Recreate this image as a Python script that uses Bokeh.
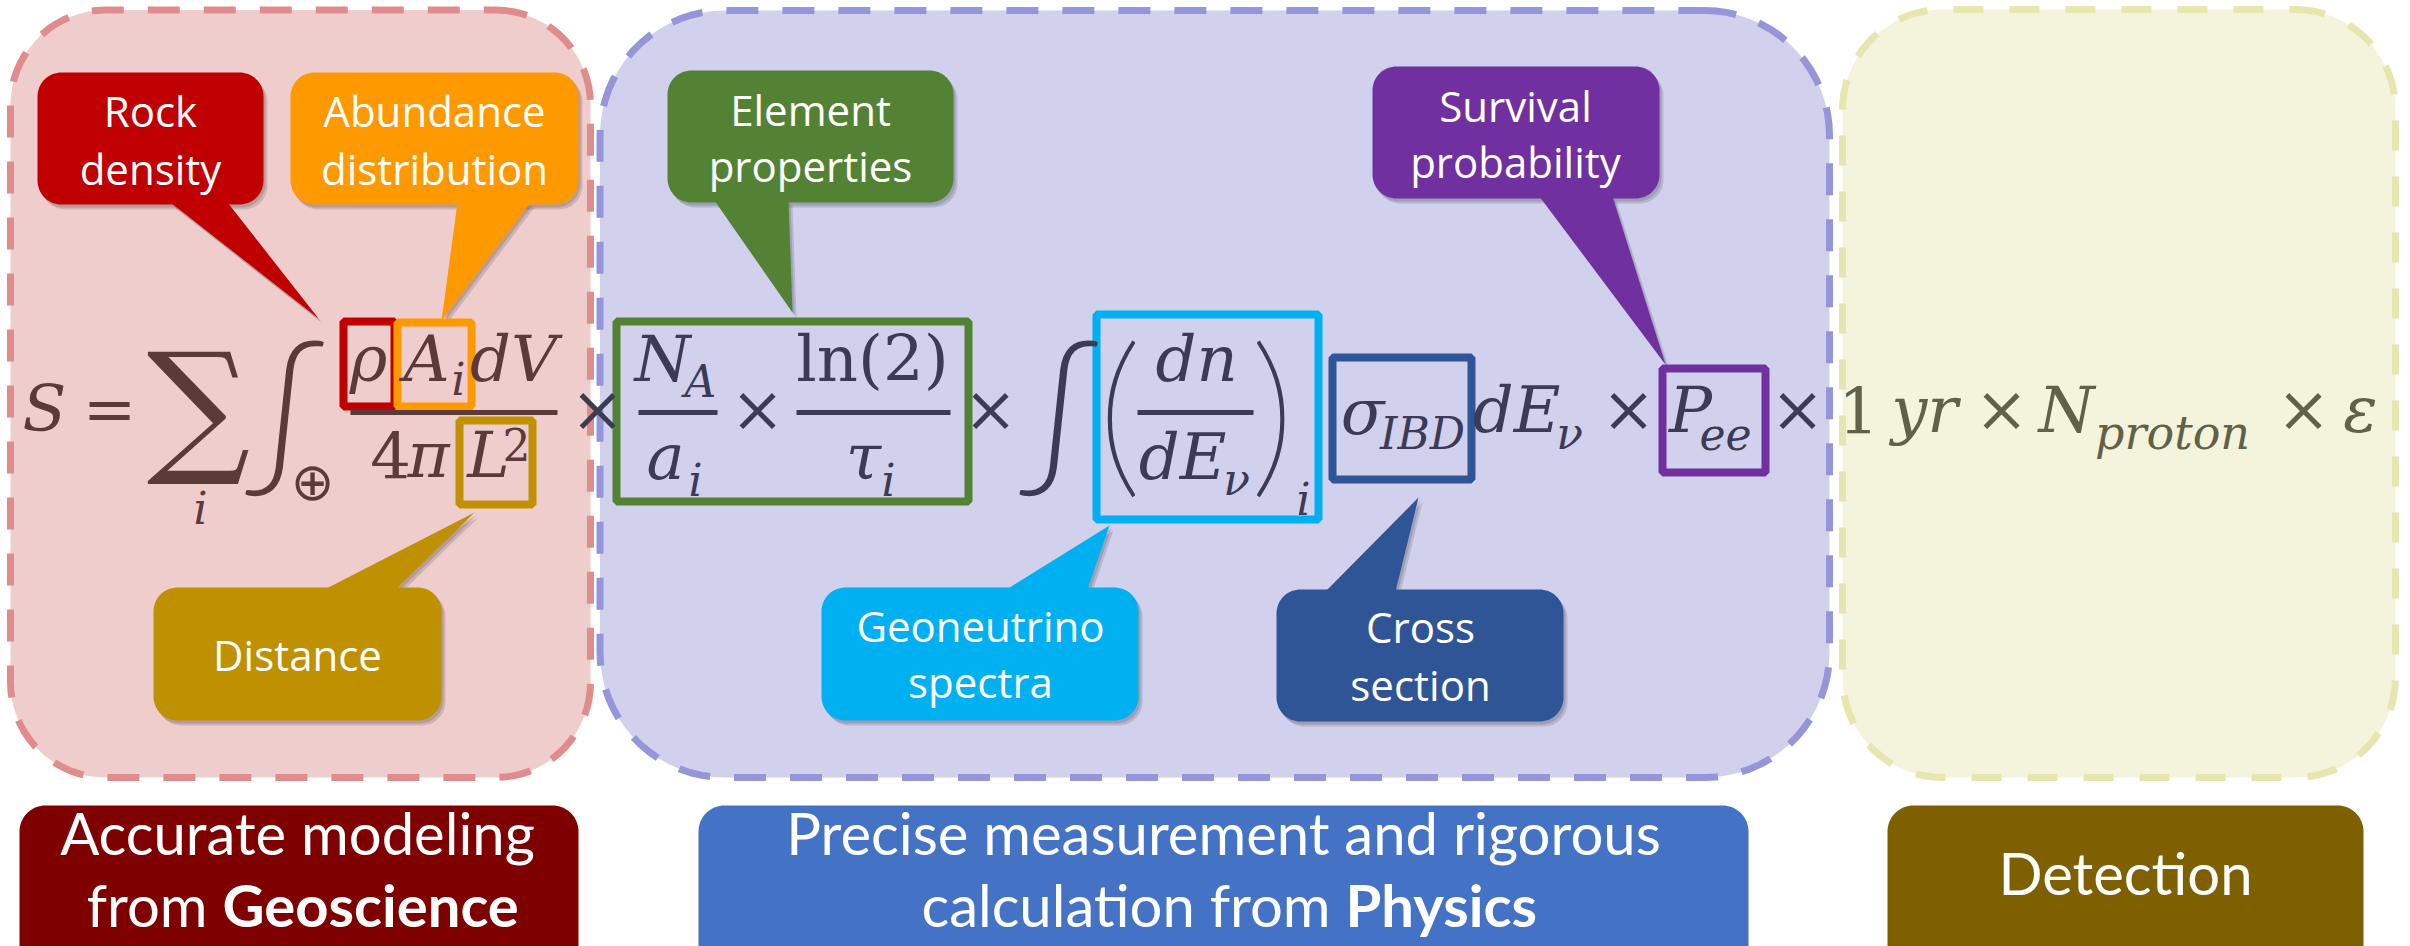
import numpy as np
from bokeh.plotting import figure
from bokeh.models import Range1d
from bokeh.core.properties import value
from bokeh.embed import file_html
from bokeh.resources import INLINE

# ---------------- content ----------------
region_names = ["Geoscience", "Physics", "Detection"]
region_fill = ["#F0CDCD", "#D1D1EE", "#F4F4DC"]
region_line = ["#E08C8C", "#9595D9", "#E8E6AF"]

callout_lines = [["Rock", "density"], ["Abundance", "distribution"], ["Element", "properties"],
                 ["Survival", "probability"], ["Distance"], ["Geoneutrino", "spectra"], ["Cross", "section"]]
callout_colors = ["#C00000", "#FF9900", "#548235", "#7030A0", "#BF9000", "#00B0F0", "#2F5597"]

bottom_line1 = ["Accurate modeling", "Precise measurement and rigorous", "Detection"]
bottom_line2_regular = ["from", "calculation from"]
bottom_line2_bold = ["Geoscience", "Physics"]
bottom_colors = ["#7F0000", "#4472C4", "#7F6000"]

term_colors = ["#C00000", "#FF9900", "#BF9000", "#548235", "#00B0F0", "#2F5597", "#7030A0"]

C_GEO, C_PHY, C_DET = "#5B3A3A", "#3B3B56", "#61614A"

# formula tokens: text, centre x, baseline y, size, italic, colour, font
SER = "DejaVu Serif"
formula = [
    ("S", 44, 432, 64, True, C_GEO, SER), ("=", 109, 432, 64, False, C_GEO, SER),
    ("∑", 198, 457, 145, False, C_GEO, SER), ("i", 200, 524, 44, True, C_GEO, SER),
    ("∫", 284, 463, 157, False, C_GEO, "Lato Light"), ("⊕", 312, 500, 52, False, C_GEO, "DejaVu Sans"),
    ("ρ", 368, 382, 64, True, C_GEO, SER), ("A", 426, 382, 64, True, C_GEO, SER),
    ("i", 458, 395, 44, True, C_GEO, SER), ("dV", 513, 382, 64, True, C_GEO, SER),
    ("4", 390, 478, 64, False, C_GEO, SER), ("π", 428, 478, 64, True, C_GEO, SER),
    ("L", 488, 478, 64, True, C_GEO, SER), ("2", 516, 460, 44, False, C_GEO, SER),
    ("×", 597, 432, 64, False, "#3C3C50", SER),
    ("N", 662, 382, 64, True, C_PHY, SER), ("A", 700, 397, 44, True, C_PHY, SER),
    ("a", 665, 480, 64, True, C_PHY, SER), ("i", 695, 496, 44, True, C_PHY, SER),
    ("×", 757, 432, 64, False, C_PHY, SER), ("ln(2)", 872, 382, 64, False, C_PHY, SER),
    ("τ", 863, 480, 64, True, C_PHY, SER), ("i", 888, 496, 44, True, C_PHY, SER),
    ("×", 990, 432, 64, False, C_PHY, SER), ("∫", 1058, 463, 157, False, C_PHY, "Lato Light"),
    ("(", 1119, 470, 178, False, C_PHY, "Lato Thin"), ("dn", 1196, 382, 64, True, C_PHY, SER),
    ("dE", 1182, 480, 64, True, C_PHY, SER), ("ν", 1236, 495, 44, True, C_PHY, SER),
    (")", 1272, 470, 178, False, C_PHY, "Lato Thin"), ("i", 1303, 515, 44, True, C_PHY, SER),
    ("σ", 1362, 435, 64, True, C_PHY, SER), ("IBD", 1422, 449, 44, True, C_PHY, SER),
    ("dE", 1516, 433, 64, True, C_PHY, SER), ("ν", 1569, 449, 44, True, C_PHY, SER),
    ("×", 1628, 432, 64, False, C_PHY, SER), ("P", 1690, 433, 64, True, C_PHY, SER),
    ("ee", 1725, 449, 44, True, C_PHY, SER), ("×", 1797, 432, 64, False, C_PHY, SER),
    ("1", 1858, 433, 64, False, C_DET, SER), ("yr", 1924, 433, 64, True, C_DET, SER),
    ("×", 2001, 432, 64, False, C_DET, SER), ("N", 2066, 433, 64, True, C_DET, SER),
    ("proton", 2172, 449, 46, True, C_DET, SER), ("×", 2303, 432, 64, False, C_DET, SER),
    ("ε", 2360, 433, 64, True, C_DET, SER),
]

# ---------------- layout ----------------
W, H = 2410, 946
K = 0.36  # baseline correction (fraction of font size)

region_box = [(10, 9.5, 590, 777, 95), (599.5, 10, 1829, 777, 125), (1842, 9, 2395, 777, 100)]
region_dash = ["32 24", "32 24", "30 26"]

callout_box = [(37, 72, 263, 204), (290, 72, 578, 204), (667, 70, 953, 202), (1372, 66, 1659, 198),
               (153, 587, 441, 720), (821, 587, 1138, 720), (1276, 589, 1563, 721)]
callout_tail = [[(170, 202), (227, 202), (318, 318)], [(457, 202), (530, 202), (441, 320)],
                [(714, 200), (788, 200), (792, 312)], [(1539, 196), (1612, 196), (1665, 364)],
                [(324, 589), (395, 589), (474, 512)], [(1006, 589), (1087, 589), (1109, 525)],
                [(1325, 591), (1395, 591), (1418, 497)]]
callout_cx = [150, 434, 810, 1515, 297, 980, 1420]
callout_base = [[125, 183], [125, 183], [124, 180], [120, 176], [669], [640, 696], [641, 699]]

term_box = [(343, 321, 394, 406), (397, 322, 471, 406), (459, 420, 532, 504), (616, 321, 968, 501),
            (1096, 314, 1318, 519), (1332, 357, 1471, 479), (1662, 368, 1765, 472)]

frac_bars = [(350, 557, C_GEO), (638, 717, C_PHY), (796, 950, C_PHY), (1137, 1253, C_PHY)]

bottom_box = [(19, 805, 578, 975), (698, 805, 1748, 975), (1887, 805, 2363, 975)]


def rrect(x0, y0, x1, y1, r, n=18):
    xs, ys = [], []
    for cx, cy, a0, a1 in [(x1 - r, y0 + r, -90, 0), (x1 - r, y1 - r, 0, 90),
                           (x0 + r, y1 - r, 90, 180), (x0 + r, y0 + r, 180, 270)]:
        t = np.radians(np.linspace(a0, a1, n))
        xs.extend(cx + r * np.cos(t))
        ys.extend(cy + r * np.sin(t))
    return [float(v) for v in xs], [float(v) for v in ys]


p = figure(width=W, height=H, x_range=Range1d(0, W), y_range=Range1d(H, 0),
           output_backend="svg", toolbar_location=None, min_border=0,
           x_axis_type=None, y_axis_type=None)
p.grid.visible = False
p.outline_line_color = None
p.background_fill_color = "white"
p.border_fill_color = "white"


def put_text(xs, ys, texts, size, color, font, style="normal", align="center"):
    p.text(x=xs, y=[y - K * size for y in ys], text=texts, text_font=value(font),
           text_font_size=value(f"{size}px"), text_font_style=style, text_color=color,
           text_align=align, text_baseline="alphabetic")


# region panels
for (x0, y0, x1, y1, r), fc, lc, dash in zip(region_box, region_fill, region_line, region_dash):
    xs, ys = rrect(x0, y0, x1, y1, r)
    p.patch(xs, ys, fill_color=fc, line_color=lc, line_width=7, line_dash=dash)

# bottom label boxes
for (x0, y0, x1, y1), col in zip(bottom_box, bottom_colors):
    xs, ys = rrect(x0, y0, x1, y1, 26)
    p.patch(xs, ys, fill_color=col, line_color=None)

# callouts (soft shadow first)
for box, tail in zip(callout_box, callout_tail):
    x0, y0, x1, y1 = box
    for dx, dy, a in [(4, 5, 0.13), (2, 3, 0.13)]:
        xs, ys = rrect(x0 + dx, y0 + dy, x1 + dx, y1 + dy, 24)
        p.patch(xs, ys, fill_color="black", fill_alpha=a, line_color=None)
        p.patch([q[0] + dx for q in tail], [q[1] + dy for q in tail], fill_color="black",
                fill_alpha=a, line_color=None)
for box, tail, col in zip(callout_box, callout_tail, callout_colors):
    x0, y0, x1, y1 = box
    xs, ys = rrect(x0, y0, x1, y1, 24)
    p.patch(xs, ys, fill_color=col, line_color=None)
    p.patch([q[0] for q in tail], [q[1] for q in tail], fill_color=col, line_color=None)

# coloured term frames
for (x0, y0, x1, y1), col in zip(term_box, term_colors):
    p.quad(left=x0, right=x1, top=y0, bottom=y1, fill_color=None, line_color=col, line_width=8)

# fraction bars
for x0, x1, col in frac_bars:
    p.segment(x0=x0, y0=412, x1=x1, y1=412, line_color=col, line_width=5)

# formula text
for txt, cx, by, size, ital, col, font in formula:
    put_text([cx], [by], [txt], size, col, font, "italic" if ital else "normal")

# callout labels
for lines, cx, bases in zip(callout_lines, callout_cx, callout_base):
    put_text([cx] * len(lines), bases, lines, 42, "white", "Open Sans")

# bottom labels
put_text([297, 1223, 2125], [853, 853, 893], bottom_line1, 58, "white", "Lato")
split_x = [(207, 222), (1330, 1345)]
for (xr, xb), reg, bold in zip(split_x, bottom_line2_regular, bottom_line2_bold):
    put_text([xr], [925], [reg], 58, "white", "Lato", align="right")
    put_text([xb], [925], [bold], 58, "white", "Lato", style="bold", align="left")

open("out.html", "w").write(file_html(p, INLINE))
